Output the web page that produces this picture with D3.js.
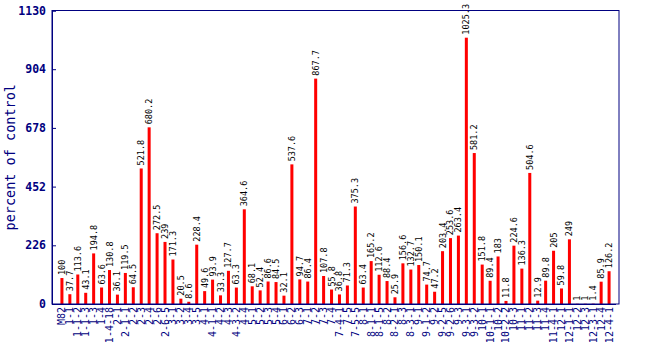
<!DOCTYPE html>
<html><head><meta charset="utf-8">
<script src="https://cdn.jsdelivr.net/npm/d3@7"></script>
<style>body{margin:0;background:#fff}svg{display:block}</style>
</head><body>
<script>
const categories = ["M82","1-1","1-1-2","1-1-3","1-3","1-4","1-4-18","2-1","2-1-1","2-2","2-3","2-4","2-6","2-6-5","3-1","3-2","3-4","3-5","4-1","4-1-1","4-2","4-3","4-3-2","4-4","5-1","5-2","5-3","5-4","6-1","6-2","6-3","7-1","7-2","7-3","7-4","7-4-1","7-5","7-5-5","8-1","8-1-1","8-1-5","8-2","8-2-1","8-3","8-3-1","9-1","9-1-2","9-2","9-2-5","9-2-6","9-3","9-3-1","9-3-2","10-1","10-1-1","10-2","10-2-2","10-3","11-1","11-2","11-3","11-4","11-4-1","12-1","12-1-1","12-2","12-3","12-3-1","12-4","12-4-1"];
const values = [100,37.7,113.6,43.1,194.8,63.6,130.8,36.1,119.5,64.5,521.8,680.2,272.5,239,171.3,20.5,8.6,228.4,49.6,93.9,33.3,127.7,63.3,364.6,68.1,52.4,86.6,84.5,32.1,537.6,94.7,86.4,867.7,107.8,55.8,36.8,71.3,375.3,63.4,165.2,112.6,88.4,25.9,156.6,132.7,150.1,74.7,47.2,203.4,253.6,263.4,1025.3,581.2,151.8,89.4,183,11.8,224.6,136.3,504.6,12.9,89.8,205,59.8,249,1,1,1.4,85.9,126.2];
const yTicks = [0,226,452,678,904,1130];
const yTitle = "percent of control";

const W = 650, H = 350;
const pLeft = 52, pRight = 619, pTop = 10.5, pBottom = 304;
const navy = "#000080";
const mono = "'DejaVu Sans Mono','Liberation Mono',monospace";

const svg = d3.select("body").append("svg").attr("width", W).attr("height", H);

const x = d3.scaleBand().domain(categories).range([55.5, 615.5]).padding(0.62);
const y = d3.scaleLinear().domain([0, 1130]).range([pBottom, pTop]);

// bars
svg.append("g").selectAll("rect").data(values).join("rect")
  .attr("x", (d, i) => x(categories[i]))
  .attr("width", x.bandwidth())
  .attr("y", d => y(d))
  .attr("height", d => pBottom - y(d))
  .attr("fill", "#ff0000");

// value labels
svg.append("g").selectAll("text").data(values).join("text")
  .attr("transform", (d, i) => `translate(${x(categories[i]) + x.bandwidth()/2 + 3},${y(d) - 3}) rotate(-90)`)
  .attr("font-family", mono).attr("font-size", "8.5px").attr("fill", "#000")
  .attr("text-anchor", "start")
  .text(d => String(d));

// frame
svg.append("rect").attr("x", pLeft).attr("y", pTop).attr("width", pRight - pLeft).attr("height", pBottom - pTop)
  .attr("fill", "none").attr("stroke", navy).attr("stroke-width", 1);

// y axis
const yAxis = d3.axisLeft(y).tickValues(yTicks).tickSize(-4).tickPadding(6).tickFormat(d3.format("d"));
const gy = svg.append("g").attr("transform", `translate(${pLeft},0)`).call(yAxis);
gy.select(".domain").attr("stroke", navy);
gy.selectAll(".tick line").attr("stroke", navy);
gy.selectAll(".tick text").attr("fill", navy).attr("font-family", mono)
  .attr("font-size", "11.5px").attr("font-weight", "bold");

// x axis
const xAxis = d3.axisBottom(x).tickSize(0).tickPadding(0);
const gx = svg.append("g").attr("transform", `translate(0,${pBottom})`).call(xAxis);
gx.select(".domain").attr("stroke", navy);
gx.selectAll(".tick text")
  .attr("fill", navy).attr("font-family", mono).attr("font-size", "10px")
  .attr("text-anchor", "end")
  .attr("transform", "translate(0,3) rotate(-90)")
  .attr("x", 0).attr("y", 0).attr("dy", "0.35em");

// y title
svg.append("text")
  .attr("transform", `translate(15,${(pTop + pBottom) / 2}) rotate(-90)`)
  .attr("text-anchor", "middle")
  .attr("font-family", mono).attr("font-size", "13.5px").attr("fill", navy)
  .text(yTitle);
</script>
</body></html>
